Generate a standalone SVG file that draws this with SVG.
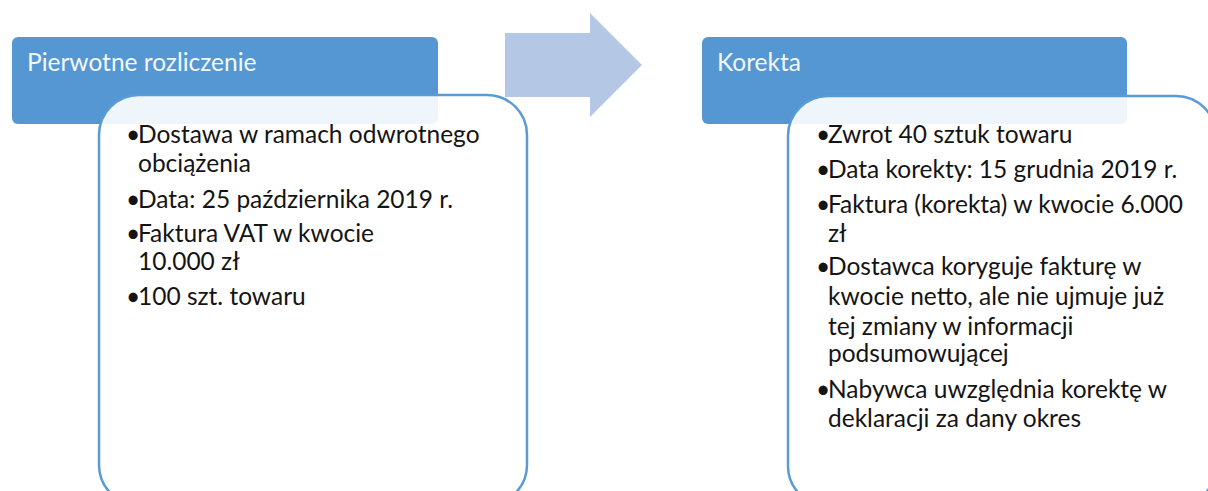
<svg xmlns="http://www.w3.org/2000/svg" width="1208" height="491" viewBox="0 0 1208 491">
<style>
.hdr{fill:#5597D3}
.hdrt{fill:#F4F8FC;font-family:Lato,"Liberation Sans",sans-serif;font-size:24.5px}
.box{fill:#FFFFFF;fill-opacity:0.9;stroke:#5B9BD5;stroke-width:2.5}
.t{fill:#141414;font-family:Lato,"Liberation Sans",sans-serif;font-size:24.5px}
.arrow{fill:#B4C8E6}
</style>
<rect width="1208" height="491" fill="#FFFFFF"/>
<g id="connectors">
<polygon class="arrow" points="505,33 590,33 590,13 642,65 590,117 590,97 505,97"/>
</g>
<g id="node-pierwotne">
<rect class="hdr" x="12" y="37" width="426" height="87" rx="6"/>
<text class="hdrt" x="27" y="71">Pierwotne rozliczenie</text>
<rect class="box" x="99" y="95" width="428" height="410" rx="40"/>
<g class="t">
<text x="126" y="143">•<tspan x="138">Dostawa w ramach odwrotnego</tspan></text>
<text x="138" y="172">obciążenia</text>
<text x="126" y="208">•<tspan x="138">Data: 25 października 2019 r.</tspan></text>
<text x="126" y="242">•<tspan x="138">Faktura VAT w kwocie</tspan></text>
<text x="138" y="270">10.000 zł</text>
<text x="126" y="305">•<tspan x="138">100 szt. towaru</tspan></text>
</g>
</g>
<g id="node-korekta">
<rect class="hdr" x="702" y="37" width="425" height="87" rx="6"/>
<text class="hdrt" x="717" y="71">Korekta</text>
<rect class="box" x="788" y="96" width="428" height="410" rx="40"/>
<g class="t">
<text x="816" y="143">•<tspan x="828">Zwrot 40 sztuk towaru</tspan></text>
<text x="816" y="178">•<tspan x="828">Data korekty: 15 grudnia 2019 r.</tspan></text>
<text x="816" y="213">•<tspan x="828">Faktura (korekta) w kwocie 6.000</tspan></text>
<text x="828" y="242">zł</text>
<text x="816" y="275">•<tspan x="828">Dostawca koryguje fakturę w</tspan></text>
<text x="828" y="305">kwocie netto, ale nie ujmuje już</text>
<text x="828" y="335">tej zmiany w informacji</text>
<text x="828" y="362">podsumowującej</text>
<text x="816" y="398">•<tspan x="828">Nabywca uwzględnia korektę w</tspan></text>
<text x="828" y="427">deklaracji za dany okres</text>
</g>
</g>
</svg>
